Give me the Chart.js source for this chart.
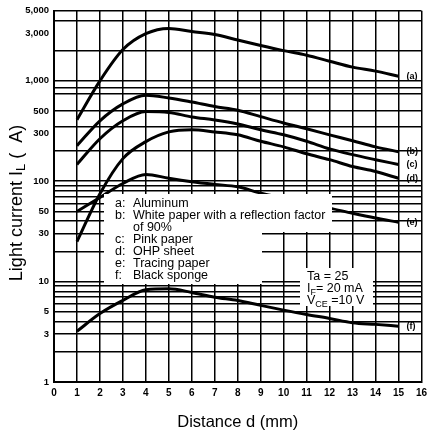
<!DOCTYPE html>
<html>
<head>
<meta charset="utf-8">
<script src="https://cdn.jsdelivr.net/npm/chart.js@4/dist/chart.umd.min.js"></script>
<style>
html,body{margin:0;padding:0;background:#fff;}
#wrap{width:432px;height:436px;}
</style>
</head>
<body>
<div id="wrap"><canvas id="c" width="432" height="436"></canvas></div>
<script>
// Distance d (mm)
const distances = [1,2,3,4,5,6,7,8,9,10,11,12,13,14,15];
// Light current values per reflector
const seriesA = [410,1000,2050,2950,3330,3100,2900,2550,2250,2000,1800,1570,1370,1250,1110];
const seriesB = [226,400,590,720,675,615,555,510,440,380,333,290,253,220,197];
const seriesC = [147,265,400,495,485,437,408,372,326,290,250,210,184,164,147];
const seriesD = [25,75,168,248,310,326,310,290,250,220,188,164,140,125,107];
const seriesE = [50,69,95,117,107,99,93,88,76,68,60,54,48,43,39];
const seriesF = [3.2,4.8,6.5,8.3,8.5,7.8,7.0,6.5,5.8,5.2,4.7,4.3,3.9,3.75,3.6];
const seriesTags = ['(a)','(b)','(c)','(d)','(e)','(f)'];
// Tick labels
const yLabelTicks = [1,3,5,10,30,50,100,300,500,1000,3000,5000];
// Horizontal grid lines as printed on the sheet
const yGridLines = [1,2,3,4,5,6,7,8,9,10,20,30,40,50,60,70,80,90,100,200,350,500,750,850,1000,2000,4000,5000];
const legendItems = [
  ['a:','Aluminum'],
  ['b:','White paper with a reflection factor'],
  ['','of 90%'],
  ['c:','Pink paper'],
  ['d:','OHP sheet'],
  ['e:','Tracing paper'],
  ['f:','Black sponge']
];

const allSeries = [seriesA,seriesB,seriesC,seriesD,seriesE,seriesF];
const datasets = allSeries.map((s,i)=>({
  label: seriesTags[i],
  data: distances.map((d,j)=>({x:d,y:s[j]})),
  borderColor:'#000',
  borderWidth:3,
  pointRadius:0,
  fill:false,
  cubicInterpolationMode:'monotone'
}));

const yTickValues = Array.from(new Set([...yLabelTicks, ...yGridLines])).sort((a,b)=>a-b);
const FONT = '"Liberation Sans", Arial, Helvetica, sans-serif';

function drawSub(ctx, parts, x, y, size){
  let cx = x;
  parts.forEach(([t,sub])=>{
    ctx.font = (sub? Math.round(size*0.7): size) + 'px ' + FONT;
    ctx.fillText(t, cx, sub ? y + size*0.25 : y);
    cx += ctx.measureText(t).width;
  });
  return cx - x;
}
function measureSub(ctx, parts, size){
  let w=0;
  parts.forEach(([t,sub])=>{
    ctx.font = (sub? Math.round(size*0.7): size) + 'px ' + FONT;
    w += ctx.measureText(t).width;
  });
  return w;
}

const overlay = {
  id:'overlay',
  afterDatasetsDraw(chart){
    const ctx = chart.ctx;
    const xs = chart.scales.x, ys = chart.scales.y;
    ctx.save();
    ctx.fillStyle = '#fff';
    ctx.fillRect(104,194,228,38);
    ctx.fillRect(104,232,158,52);
    ctx.fillRect(300,268,73,38);
    ctx.fillStyle = '#000';
    ctx.textBaseline = 'middle';
    ctx.textAlign = 'left';
    ctx.font = '12.5px ' + FONT;
    legendItems.forEach((it,i)=>{
      const y = 204 + i*12;
      if (it[0]) ctx.fillText(it[0], 115, y);
      ctx.fillText(it[1], 133, y);
    });
    ctx.font = '12.5px ' + FONT;
    ctx.fillText('Ta = 25', 307, 277);
    drawSub(ctx, [['I',false],['F',true],['= 20 mA',false]], 307, 289, 12.5);
    drawSub(ctx, [['V',false],['CE',true],[' =10 V',false]], 307, 301, 12.5);
    ctx.font = 'bold 9px ' + FONT;
    allSeries.forEach((s,i)=>{
      const px = xs.getPixelForValue(distances[distances.length-1]) + 8;
      const py = ys.getPixelForValue(s[s.length-1]);
      ctx.fillText(seriesTags[i], px, py);
    });
    ctx.translate(17, 203);
    ctx.rotate(-Math.PI/2);
    const parts = [['Light current I',false],['L',true],[' (  A)',false]];
    const w = measureSub(ctx, parts, 18);
    drawSub(ctx, parts, -w/2, 0, 18);
    ctx.restore();
  }
};

new Chart(document.getElementById('c'), {
  type:'line',
  data:{datasets},
  options:{
    responsive:false,
    animation:false,
    devicePixelRatio:1,
    layout:{padding:{top:8,right:4,left:0,bottom:0}},
    plugins:{legend:{display:false},tooltip:{enabled:false},title:{display:false}},
    scales:{
      x:{
        type:'linear', min:0, max:16,
        afterFit(s){ s.height = 54; },
        ticks:{stepSize:1, color:'#000', font:{family:FONT, size:10, weight:'bold'}, padding:5, maxRotation:0, autoSkip:false},
        grid:{color:'#000', lineWidth:1.5, drawTicks:false},
        border:{color:'#000', width:2},
        title:{display:true, text:'Distance d (mm)', color:'#000', font:{family:FONT, size:16.5}, padding:{top:16}}
      },
      y:{
        type:'logarithmic', min:1, max:5000,
        afterFit(s){ s.width = 54; },
        afterBuildTicks(s){ s.ticks = yTickValues.map(v=>({value:v})); },
        ticks:{
          autoSkip:false, color:'#000', font:{family:FONT, size:9.5, weight:'bold'}, padding:5,
          callback(v){ return yLabelTicks.includes(v) ? v.toLocaleString('en-US') : ''; }
        },
        grid:{
          color:(c)=> (c.tick && yGridLines.includes(c.tick.value)) ? '#000' : 'rgba(0,0,0,0)',
          lineWidth:1.5, drawTicks:false
        },
        border:{color:'#000', width:2}
      }
    }
  },
  plugins:[overlay]
});
</script>
</body>
</html>
